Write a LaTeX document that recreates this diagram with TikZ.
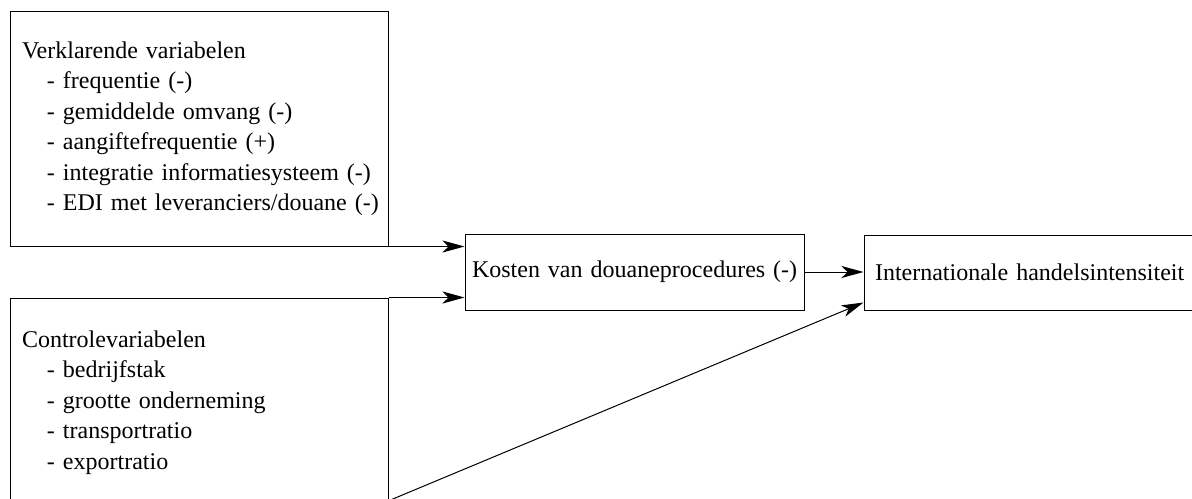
\documentclass[tikz,border=0pt]{standalone}
\usepackage{fontspec}
\setmainfont{Liberation Serif}
\usetikzlibrary{positioning,arrows.meta,calc}
\newcommand{\regel}[1]{\hspace*{12.5pt}\mbox{- #1}}

\begin{document}
\begin{tikzpicture}[x=0.5pt,y=-0.5pt]
\tikzstyle{box}=[draw,line width=.5pt,inner xsep=6pt,inner ysep=0pt,font=\fontsize{12}{15.25}\selectfont]
\tikzstyle{lbox}=[box,align=left,text width=177pt,minimum width=189pt]
\tikzstyle{pijl}=[-{Stealth[length=11pt,width=6pt,inset=3pt]},line width=.5pt]
    \useasboundingbox (0,0) rectangle (1192,498);
    \clip (0,0) rectangle (1192,498);
    \node[lbox,minimum height=117.5pt] (verkl) at (199,128.5) {\mbox{Verklarende variabelen}\\
      \regel{frequentie (-)}\\
      \regel{gemiddelde omvang (-)}\\
      \regel{aangiftefrequentie (+)}\\
      \regel{integratie informatiesysteem (-)}\\
      \regel{EDI met leveranciers/douane (-)}};
    \node[lbox,minimum height=104.5pt] (contr) at (199,402.5) {Controlevariabelen\\
      \regel{bedrijfstak}\\
      \regel{grootte onderneming}\\
      \regel{transportratio}\\
      \regel{exportratio}};
    \node[box,inner xsep=3.5pt,align=left,text width=162.5pt,minimum height=38pt] (kosten) at (634.5,272) {\mbox{Kosten van douaneprocedures (-)}};
    \node[box,inner xsep=5.5pt,align=left,text width=157pt,minimum height=37.5pt] (handel) at (1032,272.5) {\mbox{Internationale handelsintensiteit}};
    \coordinate (uit) at (388,501);
    \draw[pijl] (verkl.south east) to (verkl.south east -| kosten.west);
    \draw[pijl] (contr.north east) to (contr.north east -| kosten.west);
    \draw[pijl] (kosten.east) to (kosten.east -| handel.west);
    \draw[pijl] (uit) to ($(handel.south west)+(0,-8)$);
  \end{tikzpicture}
\end{document}
